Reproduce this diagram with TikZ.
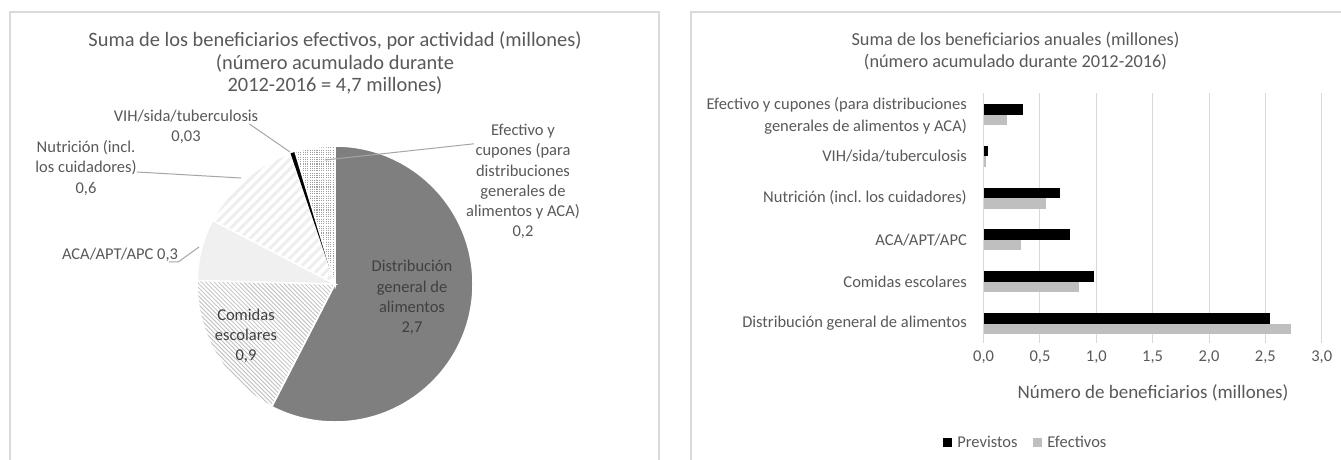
\documentclass[tikz,border=0pt]{standalone}
\usepackage{fontspec}
\setmainfont{Carlito}
\usepackage{tikz}
\definecolor{txt}{RGB}{89, 89, 89}
\definecolor{dtxt}{RGB}{64, 64, 64}
\definecolor{frame}{RGB}{217, 217, 217}
\definecolor{gfd}{RGB}{127, 127, 127}
\definecolor{aca}{RGB}{240, 240, 240}
\definecolor{efe}{RGB}{191, 191, 191}
\definecolor{lead}{RGB}{166, 166, 166}
\usetikzlibrary{positioning}
\frenchspacing

\begin{document}
\begin{tikzpicture}[x=1pt, y=-1pt,
  every node/.style={inner sep=0pt, text=txt},
  lbl/.style={font=\fontsize{16.5}{20.3}\selectfont, align=center},
  cat/.style={font=\fontsize{16.5}{21.5}\selectfont, align=right, anchor=east},
  leader/.style={line width=1pt, color=lead},
  slicebd/.style={draw=white, line width=1.5pt},
  hatch/.style={line width=0.8pt, color=gray!50},
  stripe/.style={line width=3pt, color=gray!13},
  dotline/.style={line width=1.1pt, color=gray!75, dash pattern=on 1.1pt off 1.2pt}]
\fill [white] (0,0) rectangle (1341,460);
\useasboundingbox (0,0) rectangle (1341,460);
\draw [frame, line width=1.5pt] (10,12) rectangle (659,480);
\draw [frame, line width=1.5pt] (691,12) rectangle (1360,480);

% pie chart
\node (t1) [font=\fontsize{20.4}{22.5}\selectfont, align=center] at (335,63) {Suma de los beneficiarios efectivos, por actividad (millones)\\(número acumulado durante\\2012-2016 = 4,7 millones)};
\coordinate (pc) at (335,284);
% distribucion general
\filldraw [slicebd, fill=gfd] (pc) -- ++(-90:138) arc[start angle=-90, end angle=117.3, radius=138] -- cycle;
% comidas escolares
\begin{scope}
\clip (pc) -- ++(-242.7:138) arc[start angle=-242.7, end angle=-178.5, radius=138] -- cycle;
\foreach \s in {-280,-275.76,...,280} \draw [hatch] (185+\s,134) -- ++(300,300);
\end{scope}
\draw [slicebd] (pc) -- ++(-242.7:138) arc[start angle=-242.7, end angle=-178.5, radius=138] -- cycle;
% ACA
\filldraw [slicebd, fill=aca] (pc) -- ++(-178.5:138) arc[start angle=-178.5, end angle=-152.5, radius=138] -- cycle;
% nutricion
\begin{scope}
\clip (pc) -- ++(-152.5:138) arc[start angle=-152.5, end angle=-108.8, radius=138] -- cycle;
\foreach \c in {340,349.9,...,640} \draw [stripe] (\c-300,300) -- ++(200,-200);
\end{scope}
\draw [slicebd] (pc) -- ++(-152.5:138) arc[start angle=-152.5, end angle=-108.8, radius=138] -- cycle;
% VIH
\fill [black] (pc) -- ++(-108.8:138) arc[start angle=-108.8, end angle=-106.8, radius=138] -- cycle;
% efectivo
\begin{scope}
\clip (pc) -- ++(-106.8:138) arc[start angle=-106.8, end angle=-90, radius=138] -- cycle;
\foreach \x in {294,296.3,...,336} \draw [dotline] (\x,145) -- (\x,285);
\end{scope}
\draw [slicebd] (pc) -- ++(-106.8:138) arc[start angle=-106.8, end angle=-90, radius=138] -- cycle;

\node (gfdl) [lbl, text=dtxt] at (412,297.5) {Distribución\\general de\\alimentos\\2,7};
\node (coml) [lbl, text=dtxt] at (246,336) {Comidas\\escolares\\0,9};
\node (acal) [lbl] at (120,255) {ACA/APT/APC 0,3};
\node (nutl) [lbl] at (86,168) {Nutrición (incl.\\los cuidadores)\\0,6};
\node (vihl) [lbl] at (186,127) {VIH/sida/tuberculosis\\0,03};
\node (efel) [lbl] at (523,181.5) {Efectivo y\\cupones (para\\distribuciones\\generales de\\alimentos y ACA)\\0,2};
\coordinate (acap) at (199,247);
\coordinate (nutp) at (241,178);
\coordinate (vihp) at (290,152);
\coordinate (efep) at (325,160);
\draw [leader] ([xshift=-9pt]acal.south east) -- (acal.south east) -- (acap);
\draw [leader] ([yshift=-4pt]nutl.east) -- (nutp);
\draw [leader] ([xshift=-9pt, yshift=3pt]vihl.east) -- (vihp);
\draw [leader] ([shift={(8pt,-20pt)}]efel.north west) -- (efep);

% bar chart
\node (t2) [font=\fontsize{18.3}{22}\selectfont, align=center] at (1015.5,51) {Suma de los beneficiarios anuales (millones)\\(número acumulado durante 2012-2016)};
\foreach \k/\v in {0/{0,0}, 1/{0,5}, 2/{1,0}, 3/{1,5}, 4/{2,0}, 5/{2,5}, 6/{3,0}} {
  \draw [frame, line width=1pt] (983.6+56.35*\k, 93) -- (983.6+56.35*\k, 343);
  \node (x\k) [lbl] at (983.6+56.35*\k, 357) {\v};
}
\foreach \i/\p/\e in {0/0.35/0.21, 1/0.04/0.02, 2/0.68/0.55, 3/0.77/0.33, 4/0.98/0.85, 5/2.54/2.73} {
  \fill [black] (983.6, 104+41.8*\i) rectangle ++(112.7*\p, 10.5);
  \fill [efe] (983.6, 114.5+41.8*\i) rectangle ++(112.7*\e, 10.5);
}
\node (c1) [cat] at (967,116) {Efectivo y cupones (para distribuciones\\generales de alimentos y ACA)};
\node (c2) [cat] at (967,156.3) {VIH/sida/tuberculosis};
\node (c3) [cat] at (967,198.1) {Nutrición (incl. los cuidadores)};
\node (c4) [cat] at (967,239.9) {ACA/APT/APC};
\node (c5) [cat] at (967,281.7) {Comidas escolares};
\node (c6) [cat] at (967,323.5) {Distribución general de alimentos};
\node (xt) [font=\fontsize{19}{22}\selectfont] at (1153,393) {Número de beneficiarios (millones)};

\node (lp) [fill=black, minimum size=9pt] at (947.5,442) {};
\node (lpt) [lbl, right=5pt of lp] {Previstos};
\node (le) [fill=efe, minimum size=9pt] at (1037.5,442) {};
\node (let) [lbl, right=5pt of le] {Efectivos};
\end{tikzpicture}
\end{document}
